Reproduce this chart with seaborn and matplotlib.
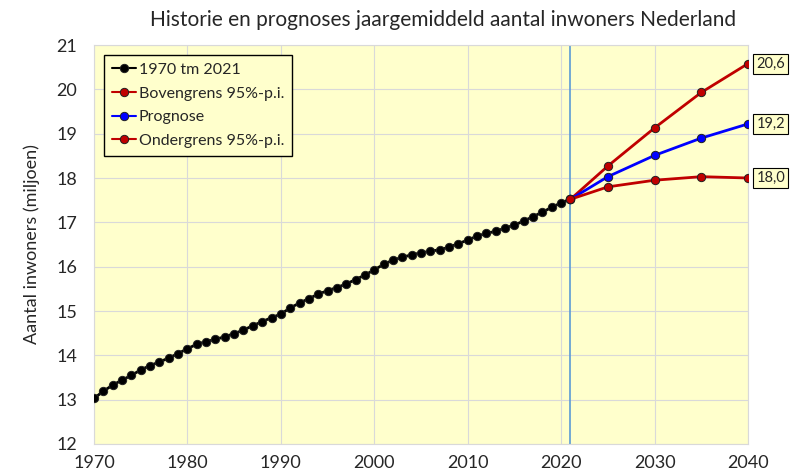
import pandas as pd
import matplotlib.pyplot as plt
import seaborn as sns

# Historical population (average per year, millions)
years_hist = list(range(1970, 2022))
pop_hist = [13.03, 13.19, 13.33, 13.44, 13.55, 13.67, 13.77, 13.85, 13.94, 14.04,
            14.15, 14.25, 14.31, 14.36, 14.42, 14.49, 14.57, 14.67, 14.76, 14.85,
            14.93, 15.07, 15.18, 15.28, 15.38, 15.46, 15.53, 15.61, 15.71, 15.81,
            15.93, 16.05, 16.15, 16.21, 16.27, 16.31, 16.35, 16.38, 16.44, 16.52,
            16.60, 16.69, 16.75, 16.80, 16.87, 16.94, 17.03, 17.13, 17.23, 17.34,
            17.44, 17.52]

# Forecasts
years_fc = [2021, 2025, 2030, 2035, 2040]
upper = [17.52, 18.27, 19.13, 19.93, 20.58]
prognose = [17.52, 18.03, 18.51, 18.90, 19.22]
lower = [17.52, 17.80, 17.95, 18.03, 18.00]

sns.set_style('whitegrid', {'axes.facecolor': '#FFFFCC', 'grid.color': '#D9D9D9',
                            'axes.edgecolor': '#D9D9D9'})
plt.rcParams['font.family'] = ['Lato', 'DejaVu Sans']

fig = plt.figure(figsize=(7.9, 4.76), dpi=100)
ax = fig.add_axes([94 / 790, 1 - 444 / 476, (748 - 94) / 790, (444 - 45) / 476])

df_hist = pd.DataFrame({'jaar': years_hist, 'inw': pop_hist})
series = [
    ('1970 tm 2021', df_hist, 'black', 'black'),
    ('Bovengrens 95%-p.i.', pd.DataFrame({'jaar': years_fc, 'inw': upper}), '#C00000', '#C00000'),
    ('Prognose', pd.DataFrame({'jaar': years_fc, 'inw': prognose}), '#0000FF', '#0000FF'),
    ('Ondergrens 95%-p.i.', pd.DataFrame({'jaar': years_fc, 'inw': lower}), '#C00000', '#C00000'),
]

ax.axvline(2021, color='#5B9BD5', lw=1.2, zorder=1)

for label, d, lc, fc in series:
    sns.lineplot(data=d, x='jaar', y='inw', ax=ax, color=lc, lw=2, marker='o',
                 markersize=6, markerfacecolor=fc, markeredgecolor='#202020',
                 markeredgewidth=0.7, label=label, zorder=3)

# end labels
for vals in (upper, prognose, lower):
    ax.annotate(f'{vals[-1]:.1f}'.replace('.', ','), xy=(2040, vals[-1]),
                xytext=(6, 0), textcoords='offset points', va='center', ha='left',
                fontsize=10.5, annotation_clip=False,
                bbox=dict(boxstyle='square,pad=0.2', fc='#FFFFCC', ec='black', lw=0.8))

ax.set_xlim(1970, 2040)
ax.set_ylim(12, 21)
ax.set_xticks(range(1970, 2041, 10))
ax.set_yticks(range(12, 22))
ax.tick_params(axis='both', labelsize=13, length=0)
ax.tick_params(axis='x', pad=8)
ax.tick_params(axis='y', pad=12)
ax.set_xlabel('')
ax.set_ylabel('Aantal inwoners (miljoen)', fontsize=13, labelpad=12)
ax.set_title('Historie en prognoses jaargemiddeld aantal inwoners Nederland',
             fontsize=15, pad=14, x=(443 - 94) / 654)

leg = ax.legend(loc='upper left', fontsize=11.5, frameon=True, fancybox=False,
                edgecolor='black', facecolor='#FFFFCC', framealpha=1,
                handlelength=1.5, handletextpad=0.2, borderaxespad=0.6,
                labelspacing=0.6, borderpad=0.5)
leg.get_frame().set_linewidth(1)
for line in leg.get_lines():
    line.set_linewidth(1.5)

fig.savefig('out.png', dpi=100)
